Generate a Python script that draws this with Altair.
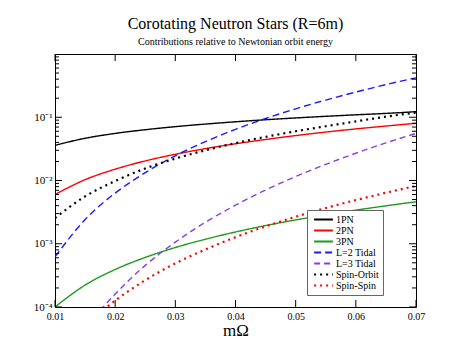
import altair as alt
import pandas as pd

# ---- data ----
series_names = ["1PN", "2PN", "3PN", "L=2 Tidal", "L=3 Tidal", "Spin-Orbit", "Spin-Spin"]
series_colors = ["#000000", "#ff0000", "#1f9a1f", "#1a1aff", "#8a3ee0", "#000000", "#ff0000"]
series_dashes = [[1, 0], [1, 0], [1, 0], [7, 4], [6, 4], [2, 4], [2, 4]]
dotted_series = ["Spin-Orbit", "Spin-Spin"]

x_full = [0.01, 0.015, 0.02, 0.025, 0.03, 0.035, 0.04, 0.045, 0.05, 0.055, 0.06, 0.065, 0.07]

pn1 = [0.036, 0.0465, 0.0555, 0.0635, 0.071, 0.078, 0.0848, 0.0913, 0.0975, 0.1035, 0.1093, 0.115, 0.1225]
pn2 = [0.006, 0.0103, 0.0151, 0.0204, 0.026, 0.0319, 0.0381, 0.0445, 0.0513, 0.0583, 0.0654, 0.0726, 0.0803]
pn3 = [1.0e-4, 2.22e-4, 3.92e-4, 6.08e-4, 8.72e-4, 1.18e-3, 1.535e-3, 1.94e-3, 2.38e-3, 2.87e-3, 3.4e-3, 3.98e-3, 4.61e-3]
tidal2 = [6.2e-4, 2.41e-3, 6.32e-3, 0.0133, 0.0246, 0.0412, 0.0645, 0.0955, 0.136, 0.187, 0.25, 0.328, 0.42]
spin_orbit = [2.55e-3, 5.6e-3, 9.8e-3, 0.0155, 0.0222, 0.030, 0.039, 0.049, 0.060, 0.072, 0.086, 0.102, 0.119]

x_tidal3 = [0.0175, 0.02, 0.025, 0.03, 0.035, 0.04, 0.045, 0.05, 0.055, 0.06, 0.065, 0.07]
tidal3 = [8.8e-5, 1.6e-4, 4.55e-4, 1.06e-3, 2.19e-3, 4.07e-3, 7.06e-3, 0.01155, 0.018, 0.027, 0.0393, 0.0555]

x_spinspin = [0.018, 0.02, 0.025, 0.03, 0.035, 0.04, 0.045, 0.05, 0.055, 0.06, 0.065, 0.07]
spin_spin = [8.9e-5, 1.26e-4, 2.65e-4, 4.9e-4, 8.1e-4, 1.27e-3, 1.88e-3, 2.67e-3, 3.67e-3, 4.9e-3, 6.4e-3, 8.2e-3]

x_ticks = [0.01, 0.02, 0.03, 0.04, 0.05, 0.06, 0.07]
y_major = [1e-4, 1e-3, 1e-2, 1e-1]
y_minor = [m * 10.0 ** k for k in (-4, -3, -2, -1) for m in range(2, 10)]

rows = []
for name, xs, ys in [
    ("1PN", x_full, pn1),
    ("2PN", x_full, pn2),
    ("3PN", x_full, pn3),
    ("L=2 Tidal", x_full, tidal2),
    ("L=3 Tidal", x_tidal3, tidal3),
    ("Spin-Orbit", x_full, spin_orbit),
    ("Spin-Spin", x_spinspin, spin_spin),
]:
    for xv, yv in zip(xs, ys):
        rows.append({"series": name, "x": xv, "y": yv, "dotted": name in dotted_series})
df = pd.DataFrame(rows)

W, H = 361, 253
FONT = "Liberation Serif"

xscale = alt.Scale(domain=[0.01, 0.07], nice=False, zero=False)
yscale = alt.Scale(type="log", domain=[1e-4, 1], nice=False)

ylabel = ("datum.value > 0.05 ? '10⁻¹' : datum.value > 0.005 ? '10⁻²' : "
          "datum.value > 0.0005 ? '10⁻³' : '10⁻⁴'")

legend = alt.Legend(orient="none", legendX=252, legendY=156,
                    labelExpr="datum.label + '\u00a0\u00a0\u00a0\u00a0'")

base = alt.Chart(df).encode(
    x=alt.X("x:Q", scale=xscale,
            axis=alt.Axis(values=x_ticks, format=".2f", title="mΩ", ticks=False, domain=False,
                          grid=False, labelFont=FONT, labelFontSize=10, labelColor="#000",
                          labelPadding=4, labelFlush=False, titleFont=FONT, titleFontSize=17,
                          titleFontWeight="normal", titleColor="#000", titlePadding=1)),
    y=alt.Y("y:Q", scale=yscale,
            axis=alt.Axis(values=y_major, labelExpr=ylabel, title=None, ticks=False, domain=False,
                          grid=False, labelFont=FONT, labelFontSize=11, labelColor="#000",
                          labelPadding=3, labelFlush=False, labelOverlap=False)),
    color=alt.Color("series:N", scale=alt.Scale(domain=series_names, range=series_colors),
                    sort=series_names, title=None, legend=legend),
    strokeDash=alt.StrokeDash("series:N",
                              scale=alt.Scale(domain=series_names, range=series_dashes),
                              sort=series_names, title=None, legend=legend),
    detail="series:N",
)

solid_lines = base.transform_filter("!datum.dotted").mark_line(
    interpolate="monotone", clip=True, strokeCap="butt", strokeWidth=1.4)
dotted_lines = base.transform_filter("datum.dotted").mark_line(
    interpolate="monotone", clip=True, strokeCap="butt", strokeWidth=2.2)

ymaj_df = pd.DataFrame({"v": y_major})
ymin_df = pd.DataFrame({"v": y_minor})
xt_df = pd.DataFrame({"v": x_ticks})

def yticks(data, length):
    left = alt.Chart(data).mark_rule(color="#000", strokeWidth=1).encode(
        y=alt.Y("v:Q", scale=yscale), x=alt.value(0), x2=alt.value(length))
    right = alt.Chart(data).mark_rule(color="#000", strokeWidth=1).encode(
        y=alt.Y("v:Q", scale=yscale), x=alt.value(W - length), x2=alt.value(W))
    return left + right

xtick_top = alt.Chart(xt_df).mark_rule(color="#000", strokeWidth=1).encode(
    x=alt.X("v:Q", scale=xscale), y=alt.value(0), y2=alt.value(7))
xtick_bot = alt.Chart(xt_df).mark_rule(color="#000", strokeWidth=1).encode(
    x=alt.X("v:Q", scale=xscale), y=alt.value(H - 7), y2=alt.value(H))

chart = alt.layer(
    solid_lines, dotted_lines, yticks(ymaj_df, 7), yticks(ymin_df, 4), xtick_top, xtick_bot
).properties(
    width=W, height=H,
    title=alt.TitleParams(
        text="Corotating Neutron Stars (R=6m)",
        subtitle="Contributions relative to Newtonian orbit energy",
        font=FONT, subtitleFont=FONT, fontSize=16, subtitleFontSize=10,
        fontWeight="normal", color="#000", subtitleColor="#000",
        anchor="middle", offset=7, subtitlePadding=5),
    autosize=alt.AutoSizeParams(type="none"),
    padding={"left": 47, "top": 46, "right": 40, "bottom": 40},
).configure_view(
    stroke="#000", strokeWidth=1
).configure_legend(
    strokeColor="#666", fillColor="#fff", padding=4, rowPadding=0,
    labelFont=FONT, labelFontSize=10, labelColor="#000", labelOffset=7,
    symbolType="M-2.1,0H2.1", symbolSize=80, symbolStrokeWidth=1.8, symbolOffset=7,
)

chart.save("out.html", embed_options={"renderer": "svg", "actions": False})
